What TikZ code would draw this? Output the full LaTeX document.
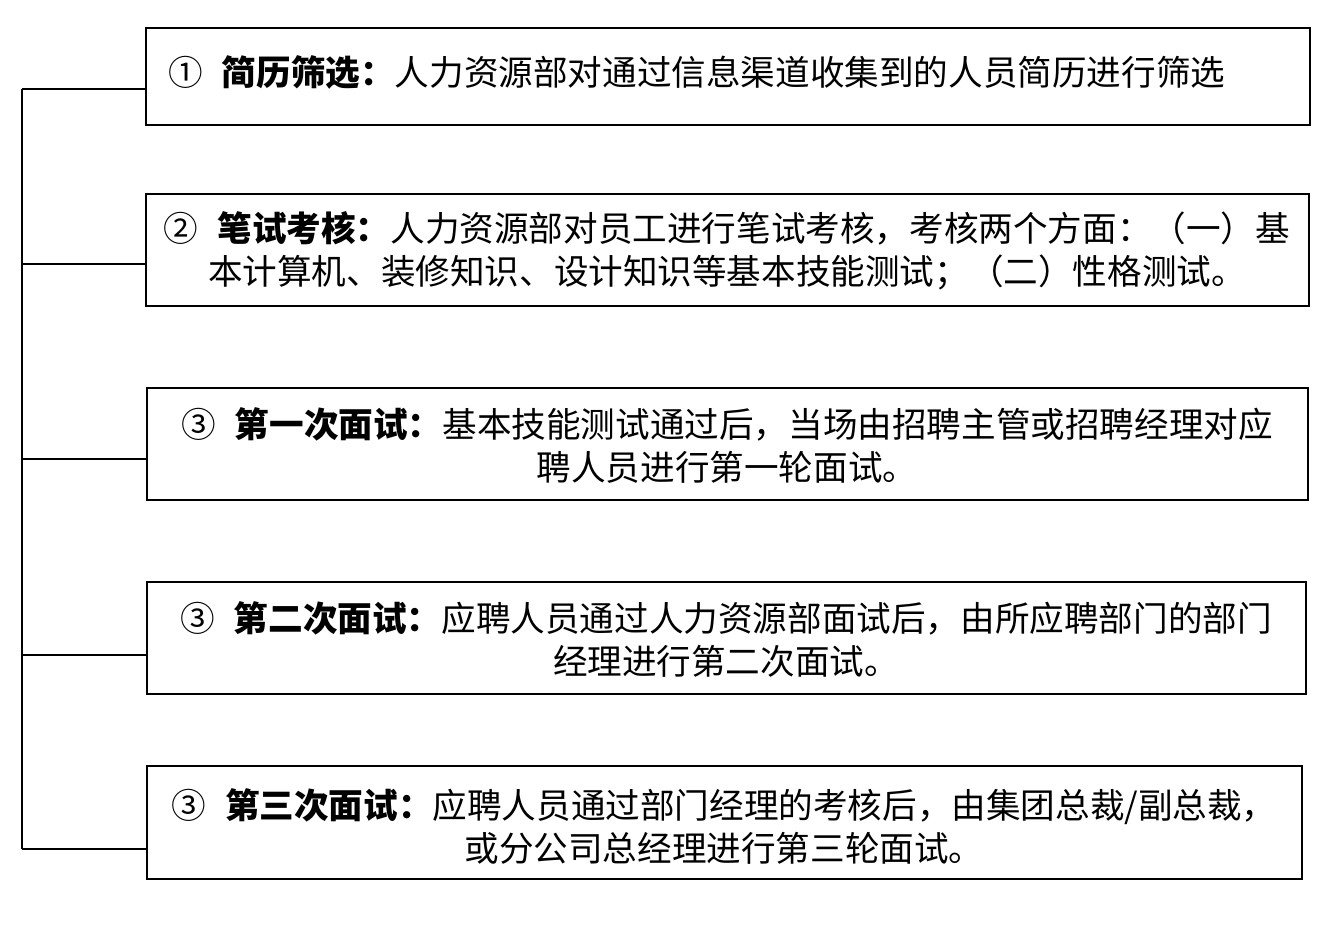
\documentclass[tikz,border=0pt]{standalone}
\usepackage{fontspec}
\setmainfont{Noto Sans CJK SC}
\newcommand{\cnum}[1]{\makebox[1.55em][l]{#1}}
\begin{document}
\begin{tikzpicture}[x=1pt,y=-1pt,
  boxst/.style={draw=black,line width=2pt,inner sep=0pt,fill=white},
  txt/.style={inner sep=0pt,align=center,font=\fontsize{34.6}{43}\selectfont},
  conn/.style={draw=black,line width=2pt}]
\useasboundingbox (0,0) rectangle (1326,936);
\fill[white] (0,0) rectangle (1326,936);
\node[boxst,minimum width=1164pt,minimum height=97pt] (box1) at (728,76.5) {};
\node[boxst,minimum width=1163pt,minimum height=112pt] (box2) at (727.5,250) {};
\node[boxst,minimum width=1161pt,minimum height=112pt] (box3) at (727.5,444) {};
\node[boxst,minimum width=1159pt,minimum height=112pt] (box4) at (726.5,638) {};
\node[boxst,minimum width=1155pt,minimum height=113pt] (box5) at (724.5,822.5) {};
\node[txt,anchor=west] (t1) at (168,72) {\cnum{①}\textbf{简历筛选：}人力资源部对通过信息渠道收集到的人员简历进行筛选};
\node[txt] (t2) at (727,251) {\cnum{②}\textbf{笔试考核：}人力资源部对员工进行笔试考核，考核两个方面：（一）基\\本计算机、装修知识、设计知识等基本技能测试；（二）性格测试。};
\node[txt] (t3) at (727,445.5) {\cnum{③}\textbf{第一次面试：}基本技能测试通过后，当场由招聘主管或招聘经理对应\\聘人员进行第一轮面试。};
\node[txt] (t4) at (726,639.5) {\cnum{③}\textbf{第二次面试：}应聘人员通过人力资源部面试后，由所应聘部门的部门\\经理进行第二次面试。};
\node[txt] (t5) at (724,826) {\cnum{③}\textbf{第三次面试：}应聘人员通过部门经理的考核后，由集团总裁/副总裁，\\或分公司总经理进行第三轮面试。};
\coordinate (s1) at (22,89);
\coordinate (s2) at (22,264);
\coordinate (s3) at (22,459);
\coordinate (s4) at (22,655);
\coordinate (s5) at (22,849);
\draw[conn] (s1) -- (s5);
\draw[conn] (s1) -- (s1 -| box1.west);
\draw[conn] (s2) -- (s2 -| box2.west);
\draw[conn] (s3) -- (s3 -| box3.west);
\draw[conn] (s4) -- (s4 -| box4.west);
\draw[conn] (s5) -- (s5 -| box5.west);
\end{tikzpicture}
\end{document}
